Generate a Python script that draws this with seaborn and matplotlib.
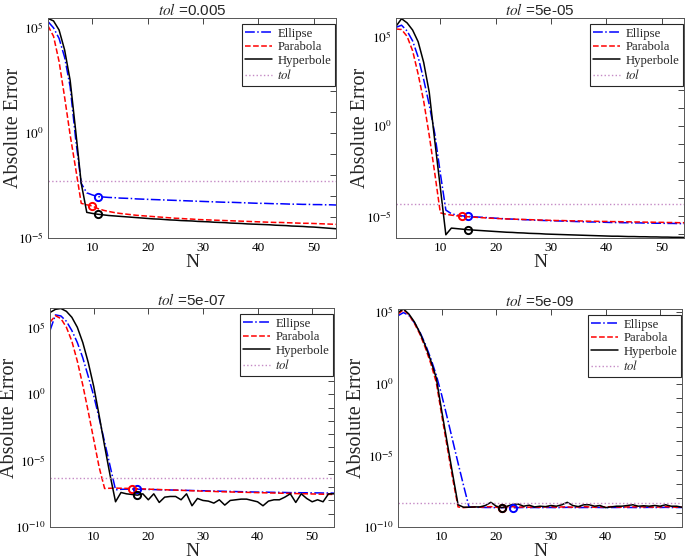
import numpy as np
import pandas as pd
import matplotlib
matplotlib.use("Agg")
import matplotlib.pyplot as plt
import seaborn as sns
from matplotlib.ticker import FixedLocator, FixedFormatter, NullFormatter

# ---------------- data (log10 of absolute error, N = 2..54) ----------------
N_values = list(range(2, 55))

tols = [0.005, 5e-05, 5e-07, 5e-09]
tol_labels = ["0.005", "5e-05", "5e-07", "5e-09"]

# tol = 0.005
ell_1 = [5.30, 5.00, 4.50, 3.60, 2.20, -0.30, -2.40, -2.85, -2.95, -3.03,
         -3.05, -3.07, -3.08, -3.10, -3.11, -3.12, -3.14, -3.15, -3.16, -3.17,
         -3.18, -3.19, -3.20, -3.21, -3.22, -3.23, -3.24, -3.25, -3.26, -3.27,
         -3.28, -3.29, -3.30, -3.30, -3.31, -3.32, -3.33, -3.34, -3.35, -3.35,
         -3.36, -3.37, -3.37, -3.38, -3.39, -3.39, -3.40, -3.40, -3.41, -3.41,
         -3.42, -3.42, -3.43]
par_1 = [5.10, 4.60, 3.40, 1.70, -0.10, -1.70, -3.35, -3.42, -3.48, -3.60,
         -3.68, -3.74, -3.79, -3.83, -3.86, -3.89, -3.92, -3.94, -3.96, -3.98,
         -4.00, -4.02, -4.04, -4.06, -4.07, -4.09, -4.10, -4.12, -4.13, -4.14,
         -4.15, -4.16, -4.17, -4.18, -4.19, -4.20, -4.21, -4.22, -4.23, -4.24,
         -4.25, -4.26, -4.26, -4.27, -4.28, -4.29, -4.30, -4.30, -4.31, -4.32,
         -4.33, -4.34, -4.35]
hyp_1 = [5.45, 5.33, 4.90, 3.95, 2.50, 0.10, -2.40, -3.78, -3.83, -3.87,
         -3.90, -3.93, -3.95, -3.97, -3.99, -4.01, -4.03, -4.05, -4.07, -4.09,
         -4.10, -4.12, -4.14, -4.15, -4.17, -4.18, -4.19, -4.21, -4.22, -4.23,
         -4.25, -4.26, -4.27, -4.29, -4.30, -4.31, -4.33, -4.34, -4.35, -4.36,
         -4.37, -4.39, -4.40, -4.41, -4.43, -4.44, -4.45, -4.47, -4.48, -4.50,
         -4.52, -4.54, -4.56]

# tol = 5e-05
ell_2 = [5.50, 5.62, 5.30, 4.75, 3.85, 2.60, 1.20, -0.40, -2.60, -4.65,
         -4.85, -4.93, -4.97, -5.00, -5.02, -5.04, -5.06, -5.08, -5.10, -5.12,
         -5.14, -5.15, -5.17, -5.18, -5.19, -5.21, -5.22, -5.23, -5.24, -5.25,
         -5.26, -5.27, -5.28, -5.29, -5.30, -5.31, -5.31, -5.32, -5.33, -5.34,
         -5.34, -5.35, -5.35, -5.36, -5.36, -5.37, -5.37, -5.38, -5.38, -5.39,
         -5.39, -5.40, -5.40]
par_2 = [5.41, 5.38, 5.00, 4.20, 2.90, 1.40, -0.50, -2.60, -4.80, -4.88,
         -4.93, -4.97, -5.00, -5.02, -5.04, -5.06, -5.08, -5.10, -5.11, -5.13,
         -5.14, -5.15, -5.16, -5.17, -5.18, -5.19, -5.20, -5.21, -5.22, -5.23,
         -5.23, -5.24, -5.25, -5.25, -5.26, -5.27, -5.27, -5.28, -5.28, -5.29,
         -5.29, -5.30, -5.30, -5.31, -5.31, -5.32, -5.32, -5.33, -5.33, -5.34,
         -5.34, -5.35, -5.35]
hyp_2 = [5.56, 5.98, 5.75, 5.35, 4.70, 3.55, 1.90, -0.80, -3.40, -6.02,
         -5.65, -5.68, -5.71, -5.74, -5.76, -5.78, -5.80, -5.82, -5.84, -5.86,
         -5.88, -5.89, -5.91, -5.92, -5.94, -5.95, -5.96, -5.98, -5.99, -6.00,
         -6.01, -6.02, -6.03, -6.04, -6.05, -6.06, -6.07, -6.08, -6.09, -6.10,
         -6.10, -6.11, -6.12, -6.12, -6.13, -6.13, -6.14, -6.14, -6.15, -6.15,
         -6.16, -6.16, -6.17]

# tol = 5e-07
ell_3 = [4.80, 5.98, 5.90, 5.50, 4.80, 3.90, 2.75, 1.35, -0.10, -1.80,
         -3.60, -5.40, -7.20, -7.16, -7.15, -7.15, -7.15, -7.16, -7.17, -7.18,
         -7.19, -7.20, -7.21, -7.22, -7.23, -7.24, -7.25, -7.26, -7.27, -7.28,
         -7.29, -7.30, -7.31, -7.32, -7.33, -7.34, -7.35, -7.36, -7.37, -7.37,
         -7.38, -7.39, -7.39, -7.40, -7.41, -7.41, -7.42, -7.42, -7.43, -7.43,
         -7.44, -7.44, -7.45]
par_3 = [5.43, 5.92, 5.70, 5.05, 4.00, 2.50, 0.70, -1.30, -3.40, -5.50,
         -7.10, -7.08, -7.07, -7.08, -7.09, -7.10, -7.12, -7.13, -7.15, -7.16,
         -7.18, -7.19, -7.21, -7.22, -7.24, -7.25, -7.27, -7.28, -7.30, -7.31,
         -7.32, -7.34, -7.35, -7.36, -7.37, -7.38, -7.39, -7.40, -7.41, -7.42,
         -7.43, -7.44, -7.45, -7.46, -7.47, -7.48, -7.49, -7.50, -7.51, -7.52,
         -7.53, -7.54, -7.55]
hyp_3 = [6.16, 6.40, 6.46, 6.25, 5.80, 5.05, 3.90, 2.40, 0.60, -1.60,
         -3.90, -6.10, -8.10, -7.40, -7.50, -7.55, -7.60, -7.50, -7.95, -7.50,
         -8.15, -7.75, -7.70, -7.70, -7.95, -7.50, -8.40, -7.85, -8.00, -8.05,
         -8.20, -7.95, -8.35, -8.00, -7.95, -7.90, -7.90, -8.00, -8.10, -8.40,
         -8.05, -7.95, -7.95, -7.75, -7.50, -8.15, -7.50, -7.85, -8.10, -7.95,
         -8.10, -7.50, -7.50]

# tol = 5e-09
ell_4 = [4.73, 4.95, 4.75, 4.25, 3.60, 2.75, 1.75, 0.60, -0.80, -2.35,
         -3.95, -5.55, -7.10, -8.60, -8.62, -8.63, -8.64, -8.64, -8.65, -8.65,
         -8.65, -8.66, -8.65, -8.64, -8.65, -8.64, -8.65, -8.64, -8.64, -8.65,
         -8.64, -8.63, -8.64, -8.65, -8.64, -8.64, -8.63, -8.64, -8.65, -8.64,
         -8.64, -8.63, -8.64, -8.64, -8.65, -8.64, -8.63, -8.64, -8.64, -8.63,
         -8.64, -8.64, -8.64]
par_4 = [4.85, 5.15, 4.80, 4.20, 3.45, 2.50, 1.40, 0.10, -2.20, -4.40,
         -6.60, -8.60, -8.65, -8.62, -8.60, -8.62, -8.60, -8.58, -8.62, -8.65,
         -8.60, -8.58, -8.62, -8.60, -8.62, -8.60, -8.62, -8.60, -8.58, -8.62,
         -8.60, -8.60, -8.62, -8.60, -8.58, -8.60, -8.62, -8.60, -8.60, -8.58,
         -8.60, -8.62, -8.60, -8.60, -8.58, -8.60, -8.60, -8.62, -8.60, -8.58,
         -8.60, -8.62, -8.62]
hyp_4 = [4.96, 5.20, 4.85, 4.30, 3.55, 2.65, 1.60, 0.40, -1.90, -4.10,
         -6.30, -8.45, -8.62, -8.62, -8.60, -8.60, -8.50, -8.28, -8.55, -8.65,
         -8.55, -8.42, -8.40, -8.55, -8.48, -8.60, -8.55, -8.58, -8.50, -8.55,
         -8.45, -8.28, -8.50, -8.58, -8.45, -8.45, -8.55, -8.50, -8.65, -8.60,
         -8.55, -8.55, -8.50, -8.45, -8.55, -8.52, -8.55, -8.50, -8.55, -8.45,
         -8.55, -8.55, -8.62]

# chosen N (circle markers) per panel: Ellipse, Parabola, Hyperbole
chosen_N = [(11, 10, 11), (15, 14, 15), (18, 17, 18), (23, 21, 21)]
# y-limits (log10) per panel
ylims_exp = [(-5.0, 5.47), (-6.2, 6.02), (-10.0, 6.5), (-10.0, 5.2)]

series = [(ell_1, par_1, hyp_1), (ell_2, par_2, hyp_2),
          (ell_3, par_3, hyp_3), (ell_4, par_4, hyp_4)]
names = ["Ellipse", "Parabola", "Hyperbole"]
colors = ["#0000FF", "#FF0000", "#000000"]
styles = ["-.", "--", "-"]
tol_color = "#C58AC5"

# ---------------- style ----------------
sns.set_theme(style="white")
plt.rcParams["font.family"] = ["Liberation Serif", "DejaVu Serif"]
plt.rcParams["mathtext.fontset"] = "stix"
plt.rcParams["axes.edgecolor"] = "#555555"
plt.rcParams["axes.linewidth"] = 0.7

fig = plt.figure(figsize=(6.85, 5.6), dpi=100)
W, H = 685.0, 560.0
rects_px = [(48, 18, 336, 238), (396, 18, 684, 238),
            (50, 308, 334, 527), (398, 309, 682, 527)]
ylabel_x = [-0.087, -0.09, -0.108, -0.112]

for k in range(4):
    x0, y0, x1, y1 = rects_px[k]
    aw, ah = (x1 - x0), (y1 - y0)
    ax = fig.add_axes([x0 / W, 1 - y1 / H, aw / W, ah / H])
    handles = []
    for j in range(3):
        vals = series[k][j]
        assert len(vals) == len(N_values)
        df = pd.DataFrame({"N": N_values, "err": np.power(10.0, vals)})
        sns.lineplot(data=df, x="N", y="err", ax=ax, color=colors[j],
                     linestyle=styles[j], linewidth=1.1, label=names[j],
                     estimator=None, errorbar=None)
        handles.append(ax.get_lines()[-1])
    tl = ax.axhline(tols[k], color=tol_color, linestyle=":", linewidth=1.0,
                    label="$tol$")
    handles.append(tl)
    for j in range(3):
        n = chosen_N[k][j]
        vals = series[k][j]
        ax.plot([n], [10.0 ** vals[N_values.index(n)]], marker="o", ms=5.2,
                mfc="none", mec=colors[j], mew=1.4, linestyle="none", zorder=5)

    ax.set_yscale("log")
    lo, hi = ylims_exp[k]
    ax.set_ylim(10.0 ** lo, 10.0 ** hi)
    ax.set_xlim(2, 54)

    major = [e for e in (-10, -5, 0, 5) if lo - 1e-9 <= e <= hi]
    minor = [e for e in range(-10, 7) if lo - 1e-9 <= e <= hi and e not in major]
    ax.yaxis.set_major_locator(FixedLocator([10.0 ** e for e in major]))
    ax.yaxis.set_major_formatter(FixedFormatter(["$10^{%d}$" % e for e in major]))
    ax.yaxis.set_minor_locator(FixedLocator([10.0 ** e for e in minor]))
    ax.yaxis.set_minor_formatter(NullFormatter())
    ax.set_xticks([10, 20, 30, 40, 50])
    ax.tick_params(axis="both", which="both", direction="in", top=True, right=True,
                   labelsize=9.5, colors="#262626", pad=3)
    ax.tick_params(axis="both", which="major", length=4, width=0.6)
    ax.tick_params(axis="both", which="minor", length=4, width=0.6)
    for t in ax.get_yticklabels() + ax.get_xticklabels():
        t.set_color("black")

    ax.set_xlabel("N", fontsize=14, labelpad=0)
    ax.set_ylabel("Absolute Error", fontsize=14.5)
    ax.yaxis.set_label_coords(ylabel_x[k], 0.5)
    ax.set_title("$tol$ =" + tol_labels[k], fontsize=11, pad=2.5,
                 fontfamily=["Liberation Sans", "DejaVu Sans"])

    leg = ax.legend(handles=handles, labels=names + ["$tol$"], loc="upper right",
                    bbox_to_anchor=(1.0 - 1.0 / aw, 1.0 - 6.0 / ah),
                    borderaxespad=0.0, fancybox=False,
                    framealpha=1, edgecolor="#262626", fontsize=9.2,
                    handlelength=2.1, handletextpad=0.4, labelspacing=0.12,
                    borderpad=0.3)
    leg.get_frame().set_linewidth(0.8)

fig.savefig("out.png", dpi=100)
